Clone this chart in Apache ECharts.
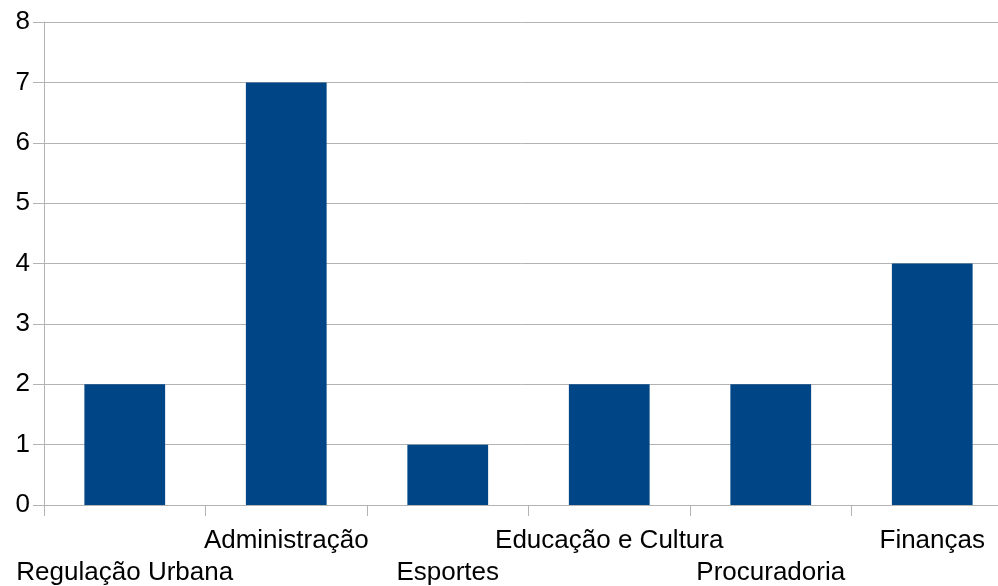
<!DOCTYPE html>
<html>
<head>
<meta charset="utf-8">
<script src="https://cdn.jsdelivr.net/npm/echarts@6/dist/echarts.min.js"></script>
<style>
  html, body { margin: 0; padding: 0; background: #fff; }
  #chart { width: 998px; height: 586px; }
</style>
</head>
<body>
<div id="chart"></div>
<script>
// Dados do gráfico
const categorias = ['Regulação Urbana', 'Administração', 'Esportes', 'Educação e Cultura', 'Procuradoria', 'Finanças'];
const valores = [2, 7, 1, 2, 2, 4];

const COR_BARRA = '#004586';
const COR_GRADE = '#b3b3b3';
const FONTE = '"Liberation Sans", Arial, sans-serif';

const chart = echarts.init(document.getElementById('chart'));

const option = {
    backgroundColor: '#ffffff',
    animation: false,
    // área do gráfico passa um pouco da borda direita, como no original
    grid: { left: 44, top: 22, width: 969, height: 483, outerBoundsMode: 'none', containLabel: false },
    xAxis: {
        type: 'category',
        data: categorias,
        axisLine: { lineStyle: { color: COR_GRADE, width: 1 } },
        axisTick: { show: true, length: 11, lineStyle: { color: COR_GRADE } },
        axisLabel: {
            interval: 0,
            color: '#000',
            fontFamily: FONTE,
            fontSize: 26,
            lineHeight: 32,
            margin: 20,
            // rótulos alternados em duas linhas
            formatter: (v, i) => (i % 2 === 0 ? '\n' + v : v)
        }
    },
    yAxis: {
        type: 'value',
        min: 0,
        max: 8,
        interval: 1,
        axisLine: { show: true, lineStyle: { color: COR_GRADE, width: 1 } },
        axisTick: { show: true, length: 11, lineStyle: { color: COR_GRADE } },
        axisLabel: { color: '#000', fontFamily: FONTE, fontSize: 26, margin: 14 },
        splitLine: { lineStyle: { color: COR_GRADE, width: 1 } }
    },
    series: [{
        type: 'bar',
        data: valores,
        barWidth: '50%',
        itemStyle: { color: COR_BARRA }
    }]
};

chart.setOption(option);
</script>
</body>
</html>
